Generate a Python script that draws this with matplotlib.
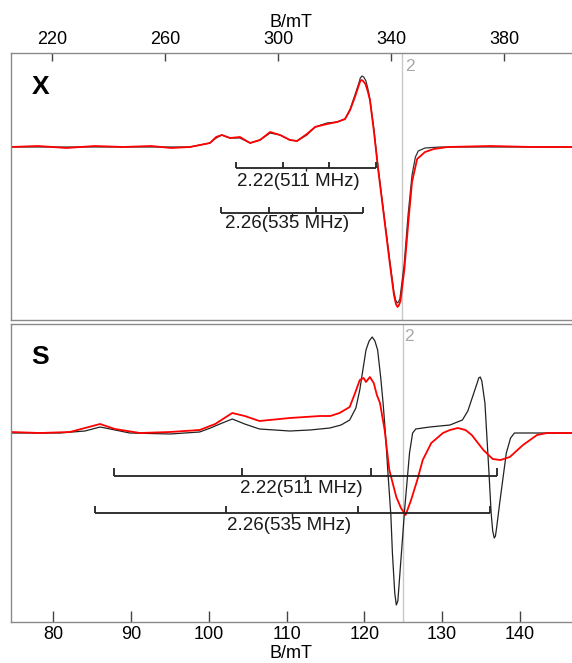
import matplotlib
matplotlib.use("Agg")
import matplotlib.pyplot as plt

plt.rcParams["font.family"] = ["Liberation Sans", "DejaVu Sans"]

# X-band panel (B in mT, intensity in arbitrary units)
x_field_sim = [205.3, 230.0, 255.0, 268.7, 272.3, 275.8, 278.0, 280.0, 282.9, 286.4, 290.0,
               293.5, 297.1, 300.6, 304.1, 306.6, 310.1, 313.0, 317.2, 320.8, 323.6, 325.4,
               327.1, 328.5, 329.0, 329.6, 330.2, 331.0, 331.7, 332.4, 333.8, 335.2, 337.4,
               339.5, 340.9, 341.5, 342.0, 342.5, 343.0, 344.5, 345.9, 347.3, 348.5, 349.5,
               351.9, 357.2, 403.9]
x_int_sim = [0, 0, 0, 0, 2, 4, 9, 12, 9, 9, 4,
             7, 14, 12, 7, 6, 12, 20, 24, 25, 28, 38,
             52, 64, 69, 71, 70, 66, 58, 48, 18, -18, -68,
             -115, -145, -153, -156, -155, -152, -118, -68, -28, -10, -4,
             -1, 0, 0]
x_field_exp = [205.3, 215.0, 225.0, 235.0, 245.0, 255.0, 262.0, 268.7, 272.3, 275.8, 278.0,
               280.0, 282.9, 286.4, 290.0, 293.5, 297.1, 300.6, 304.1, 306.6, 310.1, 313.0,
               317.2, 320.8, 323.6, 325.4, 327.1, 328.5, 329.0, 329.4, 330.0, 330.8, 331.6,
               332.4, 333.8, 335.2, 337.4, 339.5, 340.9, 341.6, 342.2, 342.7, 343.2, 344.6,
               346.0, 347.3, 349.1, 351.9, 355.0, 360.0, 375.0, 390.0, 403.9]
x_int_exp = [0, 1, -1, 1, 0, 1, -1, 0, 2, 4, 10,
             12, 9, 10, 4, 7, 15, 12, 7, 6, 13, 20,
             23, 25, 28, 37, 50, 62, 66, 67, 66, 63, 56,
             47, 16, -20, -70, -118, -148, -157, -160, -158, -154, -122,
             -75, -35, -12, -5, -2, 0, 1, 0, 0]

# S-band panel
s_field_sim = [74.5, 80.8, 84.05, 86.0, 87.3, 89.8, 95.0, 98.8, 100.2, 101.4, 103.0, 104.6,
               106.5, 110.4, 113.0, 115.55, 117.0, 118.1, 118.9, 119.4, 120.2, 120.6, 121.0,
               121.35, 121.7, 122.1, 122.4, 122.7, 123.0, 123.4, 123.6, 123.9, 124.1, 124.3,
               124.5, 125.2, 125.8, 126.2, 126.6, 128.4, 131.0, 132.6, 133.3, 133.9, 134.5,
               134.7, 134.9, 135.1, 135.5, 136.0, 136.3, 136.5, 136.7, 136.85, 137.0, 137.4,
               138.25, 138.8, 139.3, 146.7]
s_int_sim = [0, 0, 2, 6, 4, 0, -1, 1, 5, 9, 14, 9,
             4, 2, 3, 5, 8, 13, 25, 43, 83, 92, 96,
             92, 83, 55, 30, 0, -37, -82, -120, -160, -172, -168,
             -147, -74, -20, 0, 4, 6, 8, 13, 22, 36, 50,
             55, 56, 52, 30, -37, -80, -98, -105, -103, -95, -70,
             -20, -5, 0, 0]
s_field_exp = [74.5, 78.3, 82.1, 84.05, 86.0, 87.9, 91.1, 95.0, 98.8, 100.8, 103.0, 104.6,
               106.5, 110.4, 114.3, 115.6, 116.8, 118.1, 118.8, 119.4, 119.9, 120.2, 120.7,
               121.2, 121.6, 122.0, 122.6, 123.2, 124.1, 124.7, 125.3, 126.0, 126.8, 127.5,
               128.6, 130.1, 131.0, 132.0, 133.0, 133.8, 135.3, 136.5, 137.5, 138.7, 140.4,
               142.2, 143.5, 146.7]
s_int_exp = [1, 0, 1, 5, 9, 4, 0, 1, 3, 9, 20, 17,
             12, 15, 17, 17, 20, 26, 40, 53, 55, 51, 56,
             50, 38, 30, 3, -37, -64, -75, -82, -67, -47, -27,
             -10, 0, 3, 5, 3, -2, -17, -26, -27, -24, -12,
             -2, 0, 0]

# g = 2 positions
g2_x = 343.9
g2_s = 124.9

# hyperfine stick positions (mT)
x_br1 = [285.0, 301.7, 317.9, 334.7]
x_br2 = [279.6, 296.6, 313.4, 330.1]
s_br1 = [87.8, 104.3, 120.8, 137.0]
s_br2 = [85.3, 102.2, 119.2, 136.1]
br_labels = ["2.22(511 MHz)", "2.26(535 MHz)"]

x_ticks = [220, 260, 300, 340, 380]
s_ticks = [80, 90, 100, 110, 120, 130, 140]

W, H = 572, 663
fig = plt.figure(figsize=(W / 100, H / 100), dpi=100)
left = 10.7 / W
ax_x = fig.add_axes([left, 1 - 320 / H, 1 - left, (320 - 53.3) / H])
ax_s = fig.add_axes([left, 1 - 622.3 / H, 1 - left, (622.3 - 324) / H])

SPINE = "#8a8a8a"
TICK = "#444444"


def style(ax):
    for side in ("left", "top", "bottom"):
        ax.spines[side].set_color(SPINE)
        ax.spines[side].set_linewidth(1.0)
    ax.spines["right"].set_visible(False)
    ax.set_yticks([])


def bracket(ax, xs, y, h, label, tx, ty):
    ax.plot([xs[0], xs[-1]], [y, y], color="#222222", lw=1.3, solid_capstyle="butt")
    ax.vlines(xs, y, y + h, color="#222222", lw=1.3)
    mid = (xs[0] + xs[-1]) / 2
    ax.vlines([mid], y - 0.6 * h, y, color="#222222", lw=1.0)
    ax.text(tx, ty, label, ha="center", va="center", fontsize=13.5, color="#1a1a1a")


# X-band
style(ax_x)
ax_x.set_xlim(205.3, 403.9)
ax_x.set_ylim(-173, 93.7)
ax_x.axvline(g2_x, color="#c8c8c8", lw=1.0, zorder=0)
ax_x.plot(x_field_sim, x_int_sim, color="#333333", lw=0.9)
ax_x.plot(x_field_exp, x_int_exp, color="#ff0000", lw=1.3)
ax_x.text(g2_x + 0.8, 88, "2", color="#a8a8a8", fontsize=12.5, va="top", ha="left")
ax_x.text(0.037, 0.846, "X", transform=ax_x.transAxes, fontsize=19, fontweight="bold",
          va="baseline", ha="left")
bracket(ax_x, x_br1, -20.7, 6, br_labels[0], 307.0, -35)
bracket(ax_x, x_br2, -66.3, 6, br_labels[1], 303.0, -77)
ax_x.xaxis.tick_top()
ax_x.xaxis.set_label_position("top")
ax_x.set_xticks(x_ticks)
ax_x.tick_params(axis="x", direction="in", length=6, width=1, color=TICK,
                 labelsize=13, pad=4, top=True, bottom=False)
ax_x.set_xlabel("B/mT", fontsize=13, labelpad=3)

# S-band
style(ax_s)
ax_s.set_xlim(74.5, 146.7)
ax_s.set_ylim(-189.3, 109)
ax_s.axvline(g2_s, color="#c8c8c8", lw=1.0, zorder=0)
ax_s.plot(s_field_sim, s_int_sim, color="#222222", lw=0.9)
ax_s.plot(s_field_exp, s_int_exp, color="#ff0000", lw=1.3)
ax_s.text(g2_s + 0.25, 104, "2", color="#a8a8a8", fontsize=12.5, va="top", ha="left")
ax_s.text(0.037, 0.866, "S", transform=ax_s.transAxes, fontsize=19, fontweight="bold",
          va="baseline", ha="left")
bracket(ax_s, s_br1, -42.7, 7.5, br_labels[0], 111.9, -55.5)
bracket(ax_s, s_br2, -80.3, 7.5, br_labels[1], 110.3, -93)
ax_s.set_xticks(s_ticks)
ax_s.tick_params(axis="x", direction="in", length=8, width=1, color=TICK,
                 labelsize=13, pad=3)
ax_s.set_xlabel("B/mT", fontsize=13, labelpad=1)

fig.savefig("out.png", dpi=100)
